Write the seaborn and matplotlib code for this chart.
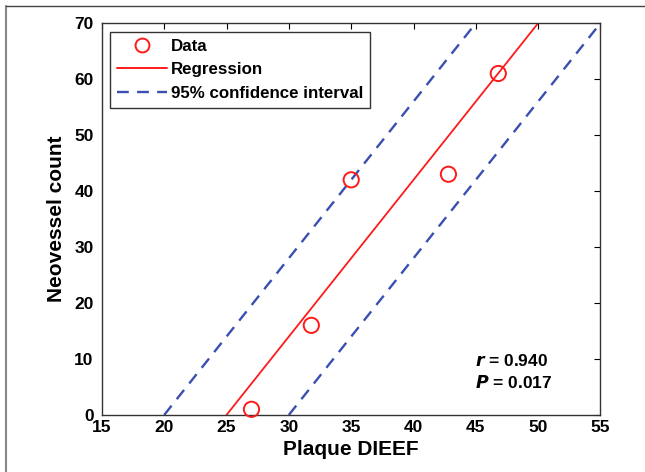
import matplotlib
matplotlib.use('Agg')
import matplotlib.pyplot as plt
import seaborn as sns
import pandas as pd
from matplotlib.lines import Line2D

# data
dieef = [27.0, 31.8, 35.0, 42.8, 46.8]
neovessel = [1, 16, 42, 43, 61]

# fitted line and 95% CI bands (end points)
reg_x = [25, 50]
reg_y = [0, 70]
ci_upper_x = [20, 45]
ci_upper_y = [0, 70]
ci_lower_x = [30, 55]
ci_lower_y = [0, 70]

x_ticks = [15, 20, 25, 30, 35, 40, 45, 50, 55]
y_ticks = [0, 10, 20, 30, 40, 50, 60, 70]

sns.set_style('white')
plt.rcParams['font.family'] = ['Liberation Sans', 'DejaVu Sans']
plt.rcParams['font.weight'] = 'bold'
plt.rcParams['text.color'] = 'black'
plt.rcParams['axes.labelcolor'] = 'black'
plt.rcParams['axes.labelweight'] = 'bold'

df = pd.DataFrame({'Plaque DIEEF': dieef, 'Neovessel count': neovessel})

fig = plt.figure(figsize=(6.45, 4.72), dpi=100)
ax = fig.add_axes([0.158, 0.121, 0.773, 0.830])

blue = '#3a4fb0'
red = '#ff1a1a'
dash = (0, (5, 3.5))

sns.lineplot(x=ci_upper_x, y=ci_upper_y, ax=ax, color=blue, lw=1.7, linestyle=dash)
sns.lineplot(x=ci_lower_x, y=ci_lower_y, ax=ax, color=blue, lw=1.7, linestyle=dash)
sns.lineplot(x=reg_x, y=reg_y, ax=ax, color=red, lw=1.3)
sns.scatterplot(data=df, x='Plaque DIEEF', y='Neovessel count', ax=ax,
                marker='o', s=120, facecolor='none', edgecolor=red,
                linewidth=1.4, zorder=5, clip_on=False)

ax.set_xlim(15, 55)
ax.set_ylim(0, 70)
ax.set_xticks(x_ticks, labels=[str(t) for t in x_ticks],
              fontweight='bold', fontsize=12.5)
ax.set_yticks(y_ticks, labels=[str(t) for t in y_ticks],
              fontweight='bold', fontsize=12.5)
ax.tick_params(direction='in', length=4, width=0.8, top=True, right=True,
               colors='black')
ax.tick_params(axis='y', pad=6)
ax.tick_params(axis='x', pad=4)
ax.set_xlabel('Plaque DIEEF', fontsize=15, fontweight='bold', labelpad=3)
ax.set_ylabel('Neovessel count', fontsize=15, fontweight='bold', labelpad=6)
for sp in ax.spines.values():
    sp.set_color('#333333')
    sp.set_linewidth(1.0)

handles = [
    Line2D([], [], marker='o', ls='none', mfc='none', mec=red, ms=10, mew=1.4),
    Line2D([], [], color=red, lw=1.4),
    Line2D([], [], color=blue, lw=1.7, ls=dash),
]
leg = ax.legend(handles, ['Data', 'Regression', '95% confidence interval'],
                loc='upper left', bbox_to_anchor=(0.016, 0.977),
                fontsize=12.2, frameon=True, fancybox=False, handlelength=3.0,
                handletextpad=0.2, borderpad=0.4, labelspacing=0.5,
                borderaxespad=0)
leg.get_frame().set_edgecolor('black')
leg.get_frame().set_linewidth(1.0)
for t in leg.get_texts():
    t.set_fontweight('bold')

ax.text(0.748, 0.125, r'$\bfit{r}$' + ' = 0.940', transform=ax.transAxes,
        fontsize=12.5, fontweight='bold')
ax.text(0.748, 0.068, r'$\bfit{P}$' + ' = 0.017', transform=ax.transAxes,
        fontsize=12.5, fontweight='bold')

# outer frame lines (top and left) like the source image
fig.add_artist(Line2D([0.009, 0.009], [0, 0.987], color='#888888', lw=1.5,
                      transform=fig.transFigure))
fig.add_artist(Line2D([0.009, 1.0], [0.987, 0.987], color='#444444', lw=1.0,
                      transform=fig.transFigure))

fig.savefig('out.png', dpi=100)
